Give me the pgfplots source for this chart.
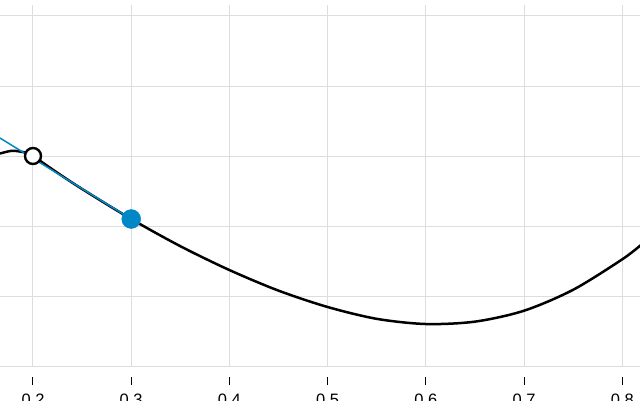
\documentclass[border=0pt]{standalone}
\usepackage{pgfplots}
\pgfplotsset{compat=1.18}
\usepackage{fontspec}
\setmainfont{Liberation Sans}
\definecolor{ptblue}{RGB}{0,136,198}
\definecolor{gridgray}{RGB}{221,221,221}

\begin{document}
\begin{tikzpicture}
\begin{axis}[
  scale only axis,
  width=640pt, height=361pt,
  xmin=0.1664, xmax=0.8181,
  ymin=0, ymax=5.157,
  axis x line*=bottom, axis y line*=left,
  axis line style={draw=none},
  xtick={0.2,0.3,0.4,0.5,0.6,0.7,0.8},
  % tick marks sit below the plot with a gap, so they go into the labels
  xticklabels={
    {\rule{1pt}{8pt}\\[2pt]0.2},{\rule{1pt}{8pt}\\[2pt]0.3},
    {\rule{1pt}{8pt}\\[2pt]0.4},{\rule{1pt}{8pt}\\[2pt]0.5},
    {\rule{1pt}{8pt}\\[2pt]0.6},{\rule{1pt}{8pt}\\[2pt]0.7},
    {\rule{1pt}{8pt}\\[2pt]0.8}},
  ytick={0,1,2,3,4,5},
  yticklabels={},
  major tick length=0pt,
  tick style={draw=none},
  xticklabel style={font=\fontsize{16.5}{18}\selectfont, align=center,
    inner sep=0pt, anchor=north, yshift=-11pt},
  grid=major,
  major grid style={gridgray, line width=1pt},
]
% curve
\addplot[black, line width=2.5pt, smooth] coordinates {
  (0.1664,3.035) (0.1786,3.075) (0.19,3.056) (0.195,3.035) (0.2,3.000)
  (0.225,2.759) (0.25,2.529) (0.3,2.100) (0.35,1.712) (0.4,1.371)
  (0.45,1.077) (0.5,0.843) (0.55,0.674) (0.6,0.600) (0.65,0.634)
  (0.7,0.790) (0.75,1.089) (0.8,1.524) (0.82,1.740)
};
% secant line
\addplot[ptblue, line width=1.5pt] coordinates {(0.1664,3.257) (0.3,2.100)};
% points
\addplot[only marks, mark=*, mark size=8pt, mark options={draw=black, fill=white, line width=2.4pt}] coordinates {(0.2,3.0)};
\addplot[ptblue, only marks, mark=*, mark size=9.5pt, mark options={draw=ptblue, fill=ptblue}] coordinates {(0.3,2.1)};
\coordinate (bl) at (axis cs:0.1664,-0.4857);
\coordinate (tr) at (axis cs:0.8181,5.2286);
\end{axis}
\pgfresetboundingbox
\path[use as bounding box] (bl) rectangle (tr);
\end{tikzpicture}
\end{document}
